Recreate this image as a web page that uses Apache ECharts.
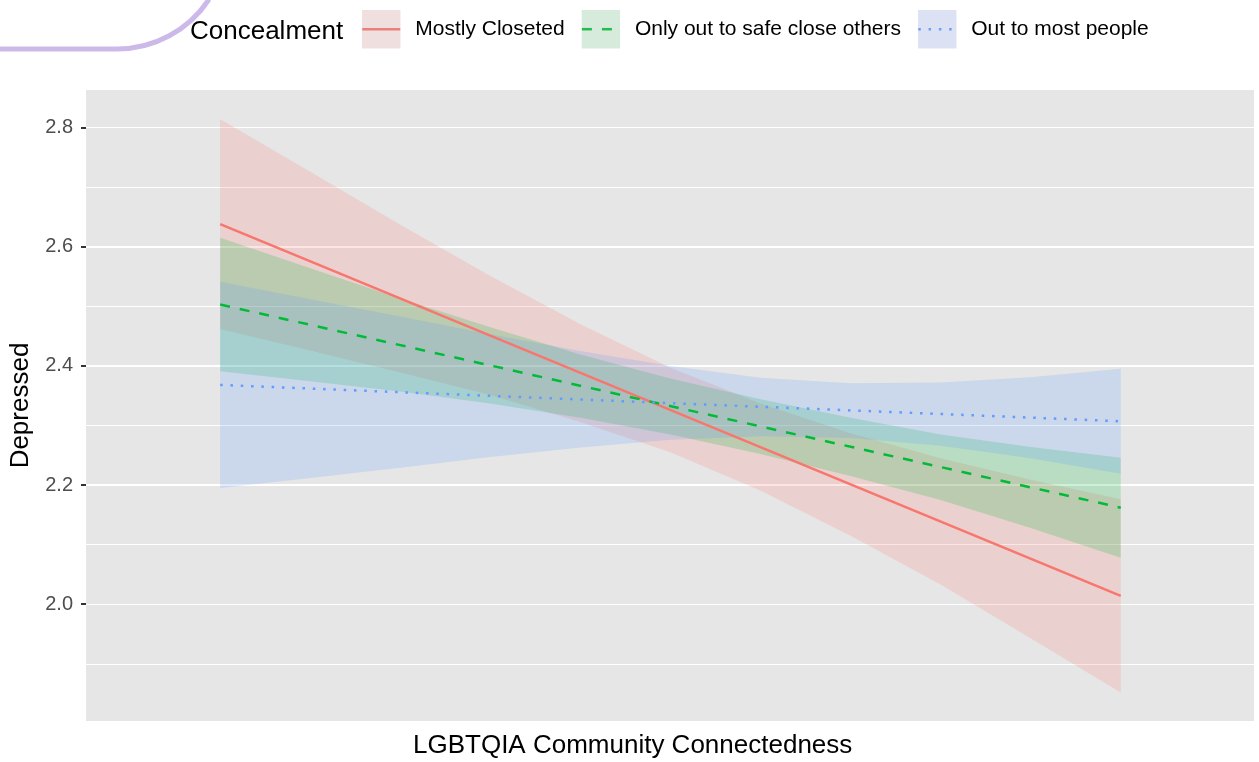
<!DOCTYPE html>
<html>
<head>
<meta charset="utf-8">
<script src="https://cdn.jsdelivr.net/npm/echarts@6/dist/echarts.min.js"></script>
<style>
  html, body { margin: 0; padding: 0; background: #fff; }
  #chart { width: 1259px; height: 762px; }
</style>
</head>
<body>
<div id="chart"></div>
<script>
// connectedness positions (axis has no labels, 0 = low, 1 = high)
const xs = [0, 0.1, 0.2, 0.3, 0.4, 0.5, 0.6, 0.7, 0.8, 0.9, 1.0];
const lineX = [0, 1];

const groups = ["Mostly Closeted", "Only out to safe close others", "Out to most people"];

// fitted lines (endpoints)
const closetedLine = [2.638, 2.014];
const safeOthersLine = [2.503, 2.162];
const outMostLine = [2.368, 2.307];

// confidence bands read at each xs
const closetedLower = [2.462, 2.426, 2.389, 2.351, 2.306, 2.255, 2.191, 2.115, 2.033, 1.943, 1.852];
const closetedUpper = [2.814, 2.726, 2.637, 2.551, 2.470, 2.397, 2.337, 2.287, 2.245, 2.209, 2.176];
const safeOthersLower = [2.391, 2.374, 2.357, 2.337, 2.313, 2.285, 2.252, 2.215, 2.175, 2.128, 2.078];
const safeOthersUpper = [2.615, 2.564, 2.513, 2.465, 2.419, 2.379, 2.344, 2.313, 2.285, 2.264, 2.246];
const outMostLower = [2.195, 2.212, 2.229, 2.247, 2.263, 2.276, 2.282, 2.279, 2.266, 2.245, 2.219];
const outMostUpper = [2.541, 2.512, 2.483, 2.453, 2.425, 2.400, 2.380, 2.371, 2.372, 2.381, 2.395];

const yTicks = [2.0, 2.2, 2.4, 2.6, 2.8];

const colors = ["#F8766D", "#00BA38", "#619CFF"];
const keyFills = ["rgba(205,150,150,0.3)", "rgba(120,190,140,0.3)", "rgba(140,160,215,0.3)"];
const dashes = ["solid", [10, 10], [2.5, 7.8]];

const font = "Liberation Sans, Arial, Helvetica, sans-serif";

// ribbon drawn as one polygon through the axis scales
function bandSeries(name, lower, upper, color) {
  return {
    name: name + " band",
    type: "custom",
    silent: true,
    data: xs.map((x, i) => [x, lower[i], upper[i]]),
    encode: { x: 0, y: [1, 2] },
    renderItem: function (params, api) {
      if (params.dataIndex !== 0) return;
      const top = xs.map((x, i) => api.coord([x, upper[i]]));
      const bottom = xs.map((x, i) => api.coord([x, lower[i]])).reverse();
      return {
        type: "polygon",
        shape: { points: top.concat(bottom) },
        style: { fill: color, opacity: 0.2 },
      };
    },
  };
}

function fitSeries(name, values, color, dash) {
  return {
    name: name,
    type: "line",
    data: lineX.map((x, i) => [x, values[i]]),
    symbol: "rect",
    showSymbol: false,
    itemStyle: { color: color },
    lineStyle: { color: color, width: 2.5, type: dash },
    silent: true,
  };
}

const lines = [closetedLine, safeOthersLine, outMostLine];
const lowers = [closetedLower, safeOthersLower, outMostLower];
const uppers = [closetedUpper, safeOthersUpper, outMostUpper];

const series = [];
groups.forEach((g, i) => {
  series.push(bandSeries(g, lowers[i], uppers[i], colors[i]));
  series.push(fitSeries(g, lines[i], colors[i], dashes[i]));
});

const chart = echarts.init(document.getElementById("chart"));
chart.setOption({
  animation: false,
  textStyle: { fontFamily: font },
  title: [
    {
      text: "Concealment",
      left: 190,
      top: 19,
      padding: 0,
      textStyle: { fontSize: 26, fontWeight: "normal", color: "#000", fontFamily: font },
    },
    {
      text: "LGBTQIA Community Connectedness",
      left: 413,
      top: 733,
      padding: 0,
      textStyle: { fontSize: 26, fontWeight: "normal", color: "#000", fontFamily: font },
    },
  ],
  legend: {
    left: 361,
    top: 10,
    padding: 0,
    itemWidth: 38,
    itemHeight: 48,
    itemGap: 16,
    selectedMode: false,
    lineStyle: { width: 2.5 },
    textStyle: { fontSize: 21, color: "#000", fontFamily: font, padding: [4, 0, 0, 10] },
    data: groups.map((g, i) => ({ name: g, itemStyle: { color: keyFills[i], borderWidth: 0 } })),
  },
  graphic: [
    {
      type: "line",
      shape: { x1: 0, y1: 49, x2: 117, y2: 49 },
      style: { stroke: "#CDB9E9", lineWidth: 5 },
    },
    {
      type: "arc",
      shape: { cx: 117, cy: -61, r: 110, startAngle: 0.58, endAngle: Math.PI / 2 },
      style: { stroke: "#CDB9E9", lineWidth: 5, fill: null },
    },
  ],
  grid: {
    left: 86,
    right: 5,
    top: 90,
    bottom: 41,
    show: true,
    backgroundColor: "#E6E6E6",
    borderWidth: 0,
  },
  xAxis: {
    type: "value",
    min: -0.149,
    max: 1.148,
    axisLine: { show: false, onZero: false },
    axisTick: { show: false },
    axisLabel: { show: false },
    splitLine: { show: false },
  },
  yAxis: [
    {
      type: "value",
      position: "left",
      min: 1.804,
      max: 2.863,
      splitNumber: 5,
      name: "Depressed",
      nameLocation: "middle",
      nameGap: 47,
      nameTextStyle: { fontSize: 26, color: "#000", fontFamily: font },
      axisLine: { show: false, onZero: false },
      axisTick: { show: true, length: 5, customValues: yTicks, lineStyle: { color: "#333", width: 2 } },
      axisLabel: {
        customValues: yTicks,
        fontSize: 20,
        color: "#4D4D4D",
        margin: 13,
        formatter: (v) => v.toFixed(1),
      },
      splitLine: { show: true, showMinLine: false, showMaxLine: false, lineStyle: { color: "#fff", width: 2 } },
    },
    {
      type: "value",
      position: "left",
      min: 1.804,
      max: 2.863,
      splitNumber: 10,
      axisLine: { show: false, onZero: false },
      axisTick: { show: false },
      axisLabel: { show: false },
      splitLine: { show: true, showMinLine: false, showMaxLine: false, lineStyle: { color: "#fff", width: 1.2 } },
    },
  ],
  series: series,
});
</script>
</body>
</html>
